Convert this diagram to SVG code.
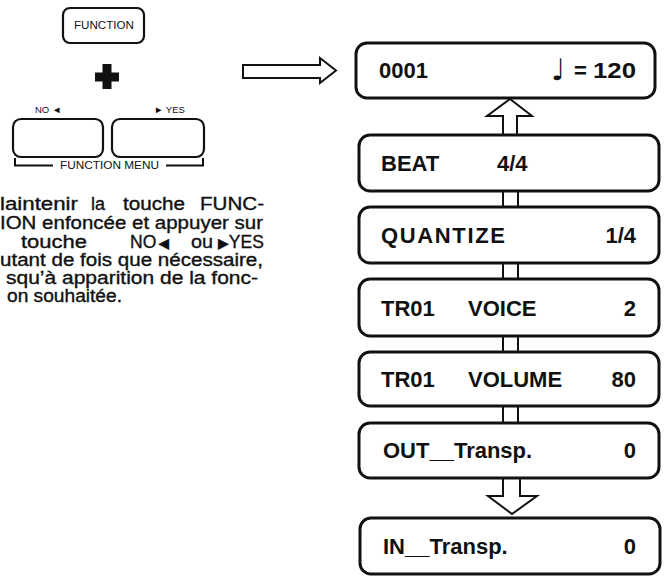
<svg xmlns="http://www.w3.org/2000/svg" width="665" height="577" viewBox="0 0 665 577">
<style>
  .key{fill:#fff;stroke:#111;stroke-width:2.2}
  .disp{fill:#fff;stroke:#111;stroke-width:3}
  .lbl{font-family:"Liberation Sans",Arial,sans-serif;fill:#111}
  .small{font-size:9.5px}
  .para{font-family:"Liberation Sans",Arial,sans-serif;font-size:17.5px;fill:#111;stroke:#111;stroke-width:0.35}
  .tri{font-family:"DejaVu Sans",sans-serif;font-size:14px}
  .dt{font-family:"Liberation Sans",Arial,sans-serif;font-size:22px;font-weight:bold;fill:#111}
  .conn{fill:#fff;stroke:#111;stroke-width:2}
  .ln{stroke:#111;stroke-width:2;fill:none}
</style>
<rect width="665" height="577" fill="#fff"/>

<g id="key-function">
  <rect class="key" x="63" y="8" width="81" height="35" rx="7"/>
  <text class="lbl" x="74" y="29" font-size="10" textLength="60" lengthAdjust="spacingAndGlyphs">FUNCTION</text>
</g>

<g id="plus">
  <rect x="102.5" y="64" width="9" height="25" fill="#111"/>
  <rect x="95" y="72.5" width="24" height="9" fill="#111"/>
</g>

<g id="key-no">
  <text class="lbl small" x="35" y="113">NO ◄</text>
  <rect class="key" x="13" y="119" width="90" height="38" rx="8"/>
</g>

<g id="key-yes">
  <text class="lbl small" x="154" y="113">► YES</text>
  <rect class="key" x="112" y="119" width="92" height="38" rx="8"/>
</g>

<g id="function-menu">
  <path class="ln" d="M15,158 V165.5 H53" stroke-width="1.6"/>
  <path class="ln" d="M166,165.5 H203 V158" stroke-width="1.6"/>
  <text class="lbl" x="60" y="168.5" font-size="10" textLength="99" lengthAdjust="spacingAndGlyphs">FUNCTION MENU</text>
</g>

<g id="instruction" class="para">
  <text x="0" y="210" textLength="78" lengthAdjust="spacingAndGlyphs">laintenir</text>
  <text x="91" y="210" textLength="14" lengthAdjust="spacingAndGlyphs">la</text>
  <text x="123" y="210" textLength="62" lengthAdjust="spacingAndGlyphs">touche</text>
  <text x="200" y="210" textLength="64" lengthAdjust="spacingAndGlyphs">FUNC-</text>
  <text x="0" y="229" textLength="263" lengthAdjust="spacingAndGlyphs">ION enfoncée et appuyer sur</text>
  <text x="21" y="248" textLength="66" lengthAdjust="spacingAndGlyphs">touche</text>
  <text x="130" y="248">NO<tspan class="tri" dx="2">◀</tspan></text>
  <text x="191" y="248" textLength="22" lengthAdjust="spacingAndGlyphs">ou</text>
  <text x="218" y="248"><tspan class="tri">▶</tspan>YES</text>
  <text x="0" y="266" textLength="263" lengthAdjust="spacingAndGlyphs">utant de fois que nécessaire,</text>
  <text x="6" y="284" textLength="252" lengthAdjust="spacingAndGlyphs">squ’à apparition de la fonc-</text>
  <text x="7" y="302" textLength="115" lengthAdjust="spacingAndGlyphs">on souhaitée.</text>
</g>

<g id="arrow-right">
  <path class="conn" stroke-width="2.6" d="M243,65 H320 V58 L336,70.5 L320,83 V78 H243 Z"/>
</g>

<g id="connectors">
  <path class="conn" d="M503,135 V116 H487 L510,99 L532,116 H517 V135"/>
  <path class="ln" d="M503,191 V207 M518,191 V207"/>
  <path class="ln" d="M503,263 V279 M518,263 V279"/>
  <path class="ln" d="M503,336 V352 M518,336 V352"/>
  <path class="ln" d="M503,406 V423 M518,406 V423"/>
  <path class="conn" d="M503,478 V496 H488 L512,514 L537,496 H520 V478"/>
</g>

<g id="disp-0001">
  <rect class="disp" x="356" y="43" width="299" height="55" rx="11"/>
  <text class="dt" x="379" y="78">0001</text>
  <text x="551" y="80" font-family="DejaVu Sans,sans-serif" font-size="30" fill="#111">♩</text>
  <text class="dt" x="574" y="78">=</text>
  <text class="dt" x="593" y="78" textLength="43" lengthAdjust="spacingAndGlyphs">120</text>
</g>

<g id="disp-beat">
  <rect class="disp" x="359" y="135" width="300" height="56" rx="11"/>
  <text class="dt" x="381" y="171">BEAT</text>
  <text class="dt" x="497" y="171">4/4</text>
</g>

<g id="disp-quantize">
  <rect class="disp" x="359" y="207" width="300" height="56" rx="11"/>
  <text class="dt" x="381" y="243" textLength="124" lengthAdjust="spacing">QUANTIZE</text>
  <text class="dt" x="636" y="243" text-anchor="end">1/4</text>
</g>

<g id="disp-voice">
  <rect class="disp" x="359" y="279" width="300" height="57" rx="11"/>
  <text class="dt" x="381" y="316">TR01</text>
  <text class="dt" x="468" y="316">VOICE</text>
  <text class="dt" x="636" y="316" text-anchor="end">2</text>
</g>

<g id="disp-volume">
  <rect class="disp" x="359" y="352" width="300" height="54" rx="11"/>
  <text class="dt" x="381" y="387">TR01</text>
  <text class="dt" x="468" y="387">VOLUME</text>
  <text class="dt" x="636" y="387" text-anchor="end">80</text>
</g>

<g id="disp-out">
  <rect class="disp" x="359" y="423" width="300" height="55" rx="11"/>
  <text class="dt" x="383" y="458">OUT__Transp.</text>
  <text class="dt" x="636" y="458" text-anchor="end">0</text>
</g>

<g id="disp-in">
  <rect class="disp" x="360" y="518" width="300" height="56" rx="11"/>
  <text class="dt" x="383" y="554">IN__Transp.</text>
  <text class="dt" x="636" y="554" text-anchor="end">0</text>
</g>
</svg>
